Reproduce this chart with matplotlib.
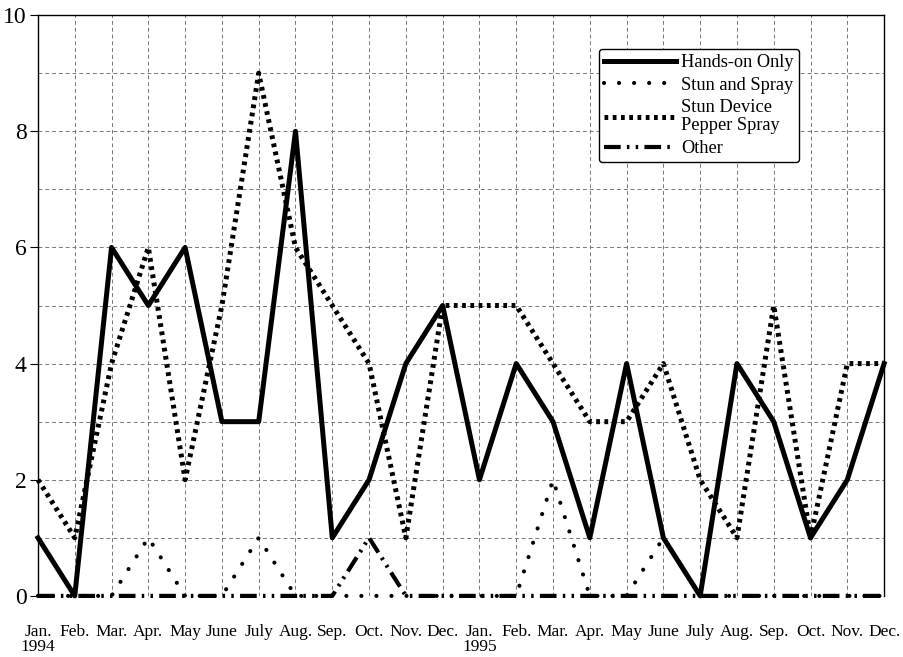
"""
Monthly use-of-force incidents by type, 1994-1995
"""

import numpy as np
import matplotlib
matplotlib.use('Agg')
import matplotlib.pyplot as plt

months = ['Jan.', 'Feb.', 'Mar.', 'Apr.', 'May', 'June', 'July', 'Aug.',
          'Sep.', 'Oct.', 'Nov.', 'Dec.']
tick_labels = ['Jan.\n1994'] + months[1:] + ['Jan.\n1995'] + months[1:]

hands_on = [1, 0, 6, 5, 6, 3, 3, 8, 1, 2, 4, 5,
            2, 4, 3, 1, 4, 1, 0, 4, 3, 1, 2, 4]
stun_and_spray = [0, 0, 0, 1, 0, 0, 1, 0, 0, 0, 0, 0,
                  0, 0, 2, 0, 0, 1, 0, 0, 0, 0, 0, 0]
stun_device = [2, 1, 4, 6, 2, 5, 9, 6, 5, 4, 1, 5,
               5, 5, 4, 3, 3, 4, 2, 1, 5, 1, 4, 4]
other = [0, 0, 0, 0, 0, 0, 0, 0, 0, 1, 0, 0,
         0, 0, 0, 0, 0, 0, 0, 0, 0, 0, 0, 0]

plt.rcParams['font.family'] = ['Liberation Serif', 'DejaVu Serif']

fig = plt.figure(figsize=(9.04, 6.57), dpi=100)
ax = fig.add_axes([0.042, 0.093, 0.936, 0.884])

x = np.arange(len(hands_on))

# grid on every month and every unit
ax.set_xticks(x)
ax.set_yticks(np.arange(0, 11, 2))
ax.set_yticks(np.arange(1, 10, 2), minor=True)
ax.grid(True, which='both', color='#777777', linestyle=(0, (4, 3)), linewidth=0.7)
ax.set_axisbelow(True)

ax.plot(x, stun_and_spray, color='black', linewidth=3.0,
        linestyle=(0, (0.01, 3.6)), dash_capstyle='round', clip_on=False,
        label='Stun and Spray')
ax.plot(x, other, color='black', linewidth=3.0,
        linestyle=(0, (4, 1.5, 0.6, 1.5, 0.6, 1.5)), clip_on=False,
        label='Other')
ax.plot(x, stun_device, color='black', linewidth=3.6,
        linestyle=(0, (0.75, 0.9)), clip_on=False,
        label='Stun Device\nPepper Spray')
ax.plot(x, hands_on, color='black', linewidth=3.6, clip_on=False,
        label='Hands-on Only')

ax.set_xlim(0, 23)
ax.set_ylim(0, 10)
ax.set_xticklabels(tick_labels, fontsize=12.5, linespacing=0.95)
ax.tick_params(axis='x', length=0, pad=20)
ax.tick_params(axis='y', which='major', labelsize=17, length=6, width=0.8, pad=2)
ax.tick_params(axis='y', which='minor', length=0)

for side in ['left', 'top', 'right']:
    ax.spines[side].set_linewidth(1.0)
ax.spines['bottom'].set_visible(False)

handles, labels = ax.get_legend_handles_labels()
order = [3, 0, 2, 1]
leg = ax.legend([handles[i] for i in order], [labels[i] for i in order],
                loc='upper left', bbox_to_anchor=(0.652, 0.958),
                fontsize=13.2, handlelength=3.9, handletextpad=0.3,
                labelspacing=0.3, borderpad=0.3, fancybox=True,
                framealpha=1, edgecolor='black')
leg.get_frame().set_linewidth(1.0)
for t in leg.get_texts():
    t.set_linespacing(1.1)

plt.savefig('out.png', dpi=100)
